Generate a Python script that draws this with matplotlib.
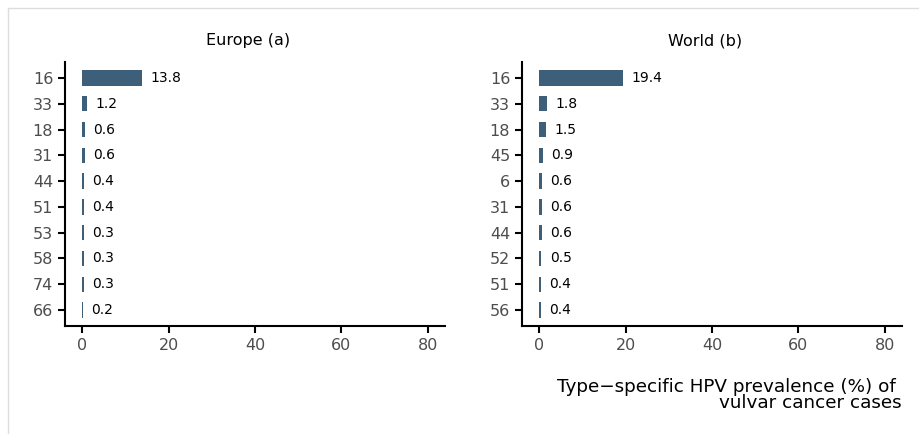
import matplotlib.pyplot as plt
from matplotlib.lines import Line2D

# data
eu_types = ["16", "33", "18", "31", "44", "51", "53", "58", "74", "66"]
eu_vals = [13.8, 1.2, 0.6, 0.6, 0.4, 0.4, 0.3, 0.3, 0.3, 0.2]
world_types = ["16", "33", "18", "45", "6", "31", "44", "52", "51", "56"]
world_vals = [19.4, 1.8, 1.5, 0.9, 0.6, 0.6, 0.6, 0.5, 0.4, 0.4]
titles = ["Europe (a)", "World (b)"]
xticks = [0, 20, 40, 60, 80]

bar_col = "#3e5f7a"

fig = plt.figure(figsize=(9.19, 4.34), dpi=100)
W, H = 919, 434

def px_axes(x0, y0, x1, y1):
    return fig.add_axes([x0 / W, 1 - y1 / H, (x1 - x0) / W, (y1 - y0) / H])

ax1 = px_axes(65, 62, 445, 326)
ax2 = px_axes(522, 62, 902, 326)

for ax, types, vals, title in [(ax1, eu_types, eu_vals, titles[0]),
                               (ax2, world_types, world_vals, titles[1])]:
    pos = list(range(len(types)))
    ax.barh(pos, vals, height=0.6, color=bar_col)
    for p, v in zip(pos, vals):
        ax.annotate(f"{v}", (v, p), xytext=(6, 0), textcoords="offset points",
                    va="center", ha="left", fontsize=10, color="black")
    ax.set_yticks(pos)
    ax.set_yticklabels(types)
    ax.set_ylim(len(types) - 0.38, -0.62)
    ax.set_xlim(-4, 84)
    ax.set_xticks(xticks)
    ax.tick_params(axis="both", labelsize=11.5, labelcolor="#4d4d4d",
                   width=1.5, length=5, color="black")
    for s in ["top", "right"]:
        ax.spines[s].set_visible(False)
    for s in ["left", "bottom"]:
        ax.spines[s].set_linewidth(1.5)
    ax.set_title(title, fontsize=11.5, pad=12, x=0.483)

fig.text(902 / W, 1 - 378 / H,
         "Type\u2212specific HPV prevalence (%) of \nvulvar cancer cases",
         ha="right", va="top", fontsize=13.2, linespacing=0.85)

# light border
fig.add_artist(Line2D([8 / W, 1], [1 - 8 / H, 1 - 8 / H], color="#dddddd", lw=1))
fig.add_artist(Line2D([8 / W, 8 / W], [0, 1 - 8 / H], color="#dddddd", lw=1))

fig.savefig("out.png", dpi=100)
